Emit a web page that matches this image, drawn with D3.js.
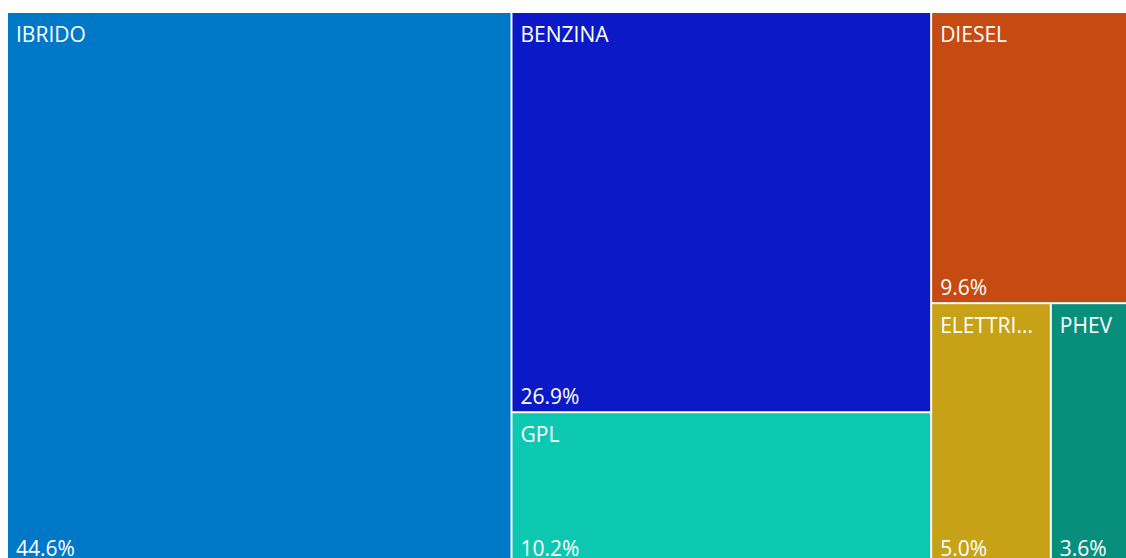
<!doctype html>
<html lang="it">
<head>
  <meta charset="utf-8">
  <title>Treemap - alimentazione</title>
  <style>
    html, body { margin: 0; padding: 0; background: #fff; }
    svg { display: block; overflow: hidden; }
  </style>
</head>
<body>
  <svg></svg>
  <script src="https://cdn.jsdelivr.net/npm/d3@7"></script>
  <script>
    // dati
    var categories = ['IBRIDO', 'BENZINA', 'GPL', 'DIESEL', 'ELETTRICO', 'PHEV'];
    var values = [44.6, 26.9, 10.2, 9.6, 5.0, 3.6];
    var palette = ['#0078C8', '#0B19C6', '#0DC8B1', '#C64B13', '#C7A116', '#078F7C'];

    var width = 1126, height = 558;
    var svg = d3.select('svg').attr('width', width).attr('height', height);
    var g = svg.append('g').attr('transform', 'translate(8, 13)');

    var root = d3.hierarchy({ children: categories.map((c, i) => ({ name: c, value: values[i] })) })
      .sum(d => d.value || 0);

    d3.treemap()
      .tile(d3.treemapSquarify)
      .size([1128, 550])
      .paddingInner(2)(root);

    var color = d3.scaleOrdinal(categories, palette);
    var fmt = d3.format('.1f');

    var cell = g.selectAll('g').data(root.leaves()).enter()
      .append('g')
      .attr('transform', d => 'translate(' + d.x0 + ',' + d.y0 + ')');

    cell.append('rect')
      .attr('width', d => d.x1 - d.x0)
      .attr('height', d => d.y1 - d.y0)
      .attr('fill', d => color(d.data.name));

    // etichetta categoria in alto a sinistra
    cell.append('text')
      .attr('x', 8)
      .attr('y', 29)
      .attr('fill', '#fff')
      .attr('font-family', '"Segoe UI", "Open Sans", sans-serif')
      .attr('font-size', '21px')
      .text(d => d.data.name)
      .each(function (d) {
        var el = d3.select(this), max = d.x1 - d.x0 - 16, s = d.data.name;
        if (this.getComputedTextLength() <= max) return;
        while (s.length > 1) {
          s = s.slice(0, -1);
          el.text(s + '...');
          if (this.getComputedTextLength() <= max) break;
        }
      });

    // percentuale in basso a sinistra
    cell.append('text')
      .attr('x', 8)
      .attr('y', d => d.y1 - d.y0 - 7)
      .attr('fill', '#fff')
      .attr('font-family', '"Segoe UI", "Open Sans", sans-serif')
      .attr('font-size', '21px')
      .text(d => fmt(d.value) + '%');
  </script>
</body>
</html>
